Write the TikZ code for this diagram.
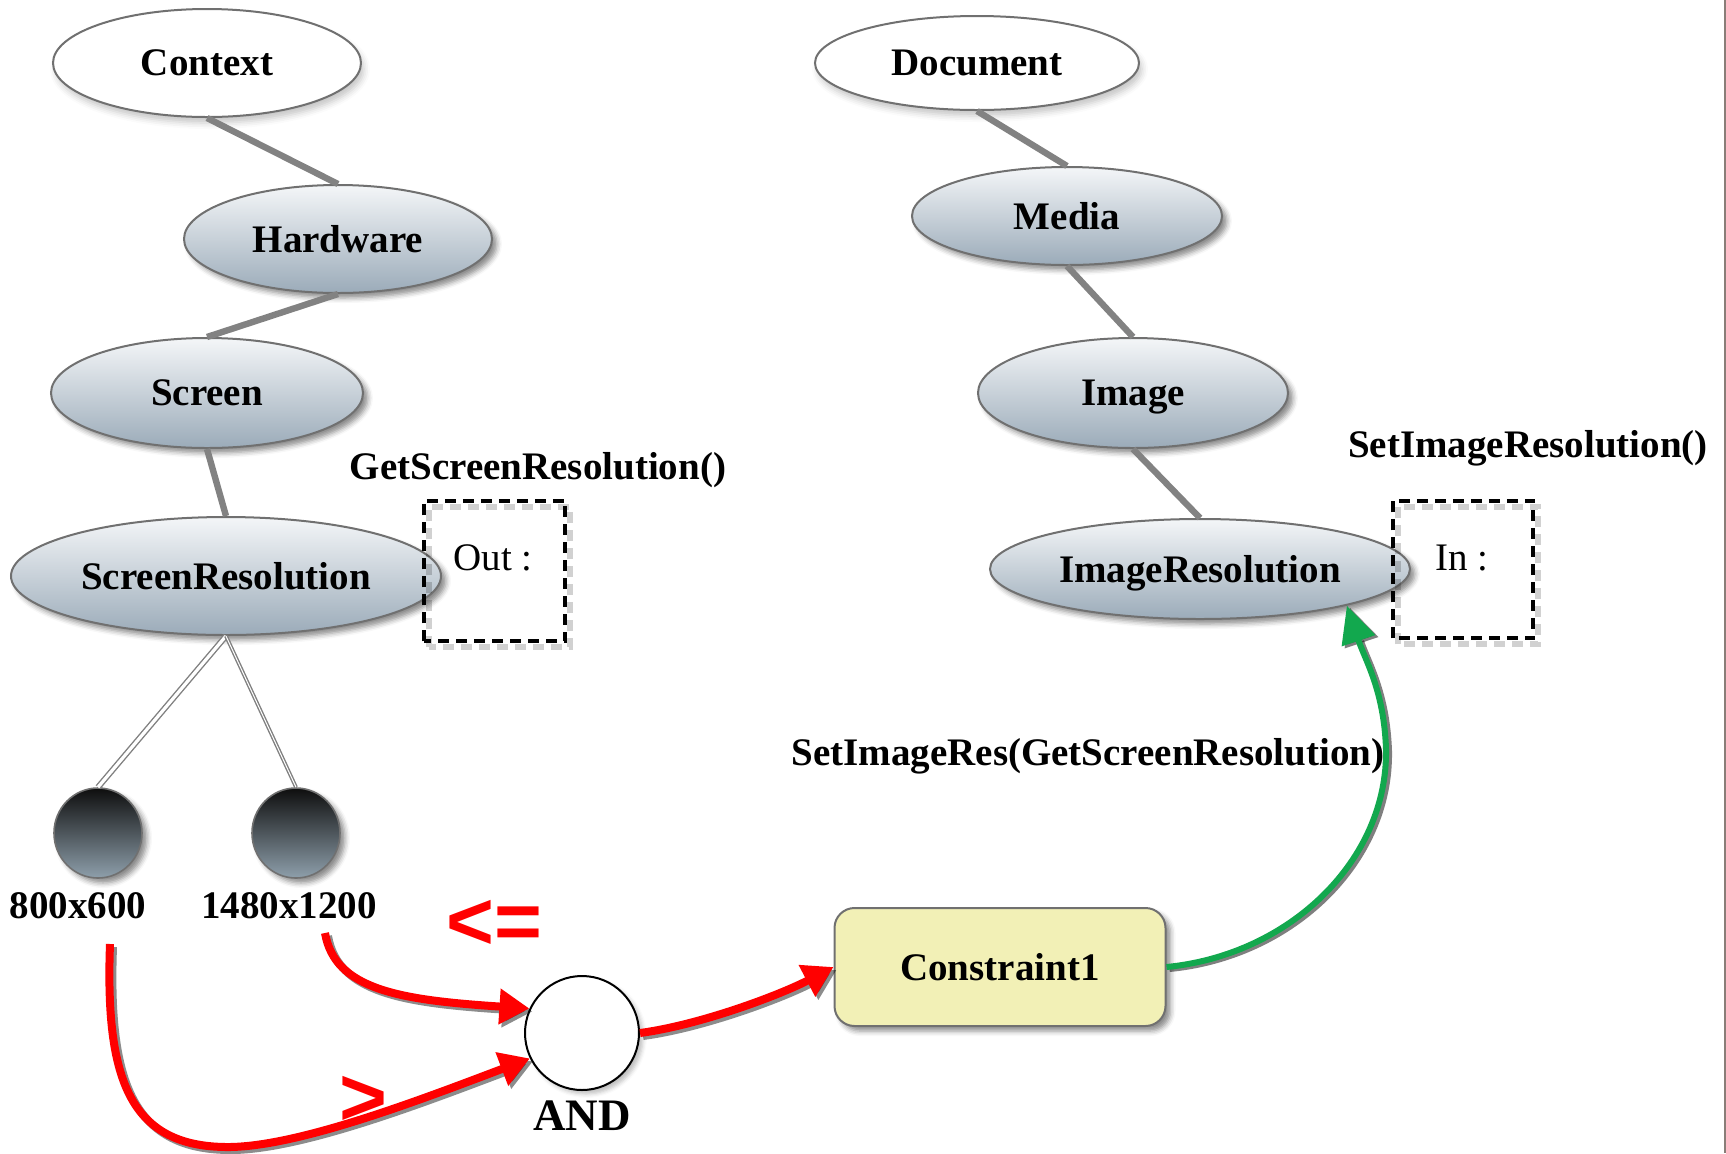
\documentclass[tikz,border=0pt]{standalone}
\usepackage{fontspec}
\setmainfont{Liberation Serif}
\setsansfont{Liberation Sans}
\usetikzlibrary{shapes.geometric, arrows.meta, shadows.blur, calc}

\definecolor{ellTop}{HTML}{F4F6F8}
\definecolor{ellBot}{HTML}{9BABB9}
\definecolor{ringgray}{HTML}{707070}
\definecolor{ballTop}{HTML}{0E0E0E}
\definecolor{ballBot}{HTML}{8E9FAB}
\definecolor{consFill}{HTML}{F2F0B6}
\definecolor{greenc}{HTML}{12A84E}
\definecolor{barGray}{HTML}{828282}
\definecolor{edgeC}{HTML}{8A7D78}

\newcommand\lblfont{\fontsize{19.5pt}{23pt}\selectfont\bfseries}
\newcommand\plainfont{\fontsize{19.5pt}{23pt}\selectfont}
\newcommand\andfont{\fontsize{22.5pt}{26pt}\selectfont\bfseries}
\newcommand\opfont{\fontsize{41pt}{44pt}\selectfont\sffamily\bfseries}

\begin{document}
\begin{tikzpicture}[x=0.5pt, y=-0.5pt,
  every node/.style={inner sep=0pt, text depth=0pt},
  softshadow/.style={blur shadow={shadow xshift=2.5pt, shadow yshift=-2.5pt,
      shadow blur radius=2.5pt, shadow opacity=45}},
  rootconcept/.style={ellipse, draw=ringgray, line width=1pt, fill=white,
      blur shadow={shadow xshift=1.5pt, shadow yshift=-3pt,
      shadow blur radius=3pt, shadow opacity=22}, font=\lblfont},
  concept/.style={ellipse, draw=ringgray, line width=1pt,
      top color=ellTop, bottom color=ellBot, softshadow, font=\lblfont},
  value/.style={ellipse, draw=ringgray, line width=0.8pt,
      top color=ballTop, bottom color=ballBot, softshadow},
  bar/.style={draw=barGray, line width=3.2pt},
  leafline/.style={draw=gray, line width=0.7pt, double=white},
  portbox/.style={draw=black, line width=2pt, dash pattern=on 5.5pt off 3.5pt},
  portshade/.style={draw=black, line width=3pt, opacity=0.18,
      dash pattern=on 5.5pt off 3.5pt},
  gate/.style={circle, draw=black, line width=1pt, fill=white,
      blur shadow={shadow xshift=2pt, shadow yshift=-2pt,
      shadow blur radius=2pt, shadow opacity=25}},
  cbox/.style={rectangle, rounded corners=10pt, draw=ringgray, line width=1pt,
      fill=consFill, softshadow, font=\lblfont},
  redarrow/.style={draw=red, line width=4pt,
      -{Triangle[length=15pt, width=17pt]}},
  redshade/.style={draw=black, opacity=0.45, line width=4pt,
      -{Triangle[length=15pt, width=17pt]},
      transform canvas={shift={(1.5pt,-1.5pt)}}},
  greenarrow/.style={draw=greenc, line width=3pt,
      -{Triangle[length=18.5pt, width=17pt]}},
  greenshade/.style={draw=black, opacity=0.5, line width=3pt,
      -{Triangle[length=18.5pt, width=17pt]},
      transform canvas={shift={(1.5pt,-1pt)}}},
  optext/.style={text=red, font=\opfont}
]
\useasboundingbox (0,0) rectangle (1726,1153);

% right frame edge
\draw[edgeC, line width=1.2pt] (1725,0) -- (1725,1153);

% context tree
\node[rootconcept, minimum width=154pt, minimum height=54pt] (ctx) at (207,63) {Context};
\node[concept, minimum width=154pt, minimum height=54pt] (hw) at (338,239) {Hardware};
\node[concept, minimum width=156pt, minimum height=55pt] (scr) at (207,393) {Screen};
\node[concept, minimum width=215pt, minimum height=59pt] (sres) at (226,576) {ScreenResolution};

% document tree
\node[rootconcept, minimum width=162pt, minimum height=47pt] (doc) at (977,63) {Document};
\node[concept, minimum width=155pt, minimum height=49pt] (media) at (1067,216) {Media};
\node[concept, minimum width=155pt, minimum height=55pt] (img) at (1133,393) {Image};
\node[concept, minimum width=210pt, minimum height=50pt] (ires) at (1200,569) {ImageResolution};

% tree links
\draw[bar] (ctx.south) -- (hw.north);
\draw[bar] (hw.south) -- (scr.north);
\draw[bar] (scr.south) -- (sres.north);
\draw[bar] (doc.south) -- (media.north);
\draw[bar] (media.south) -- (img.north);
\draw[bar] (img.south) -- (ires.north);

% resolution values
\node[value, minimum width=44pt, minimum height=45pt] (v800) at (98,833) {};
\node[value, minimum width=44pt, minimum height=45pt] (v1480) at (296,833) {};
\draw[leafline, double distance=1.6pt] (sres.south) -- (v800.north);
\draw[leafline, double distance=0.5pt] (sres.south) -- (v1480.north);
\node[font=\lblfont] (l800) at (78,906) {800x600};
\node[font=\lblfont] (l1480) at (289,906) {1480x1200};

% ports
\node[minimum width=70.5pt, minimum height=70pt] (outbox) at (494.5,571) {};
\draw[portshade] ($(outbox.south west)+(5,6)$) rectangle ($(outbox.north east)+(5,6)$);
\draw[portbox] (outbox.south west) rectangle (outbox.north east);
\node[font=\plainfont] (outtxt) at (493,558) {Out :};
\node[font=\lblfont] (getlbl) at (538,466) {GetScreenResolution()};

\node[minimum width=70pt, minimum height=68.5pt] (inbox) at (1463,569.5) {};
\draw[portshade] ($(inbox.south west)+(5,6)$) rectangle ($(inbox.north east)+(5,6)$);
\draw[portbox] (inbox.south west) rectangle (inbox.north east);
\node[font=\plainfont] (intxt) at (1462,558) {In :};
\node[font=\lblfont] (setlbl) at (1528,444) {SetImageResolution()};

% constraint
\node[gate, minimum size=57pt] (and) at (582,1033) {};
\node[font=\andfont] (andlbl) at (582,1116) {AND};
\node[cbox, minimum width=165.5pt, minimum height=59pt] (cons) at (1000,967) {Constraint1};

\node[optext] (le) at (494,925) {<=};
\node[optext] (gt) at (363,1101) {>};

\coordinate (sA) at (325,933);
\coordinate (sB) at (110,944);

\draw[redshade] (sA) .. controls (335,990) and (400,1000) .. (and.155);
\draw[redarrow] (sA) .. controls (335,990) and (400,1000) .. (and.155);
\draw[redshade] (sB) .. controls (105,1080) and (130,1148) .. (230,1147)
   .. controls (300,1146) and (420,1100) .. (and.206);
\draw[redarrow] (sB) .. controls (105,1080) and (130,1148) .. (230,1147)
   .. controls (300,1146) and (420,1100) .. (and.206);
\draw[redshade] (and.east) .. controls (700,1025) and (780,995) .. (cons.west);
\draw[redarrow] (and.east) .. controls (700,1025) and (780,995) .. (cons.west);

\draw[greenshade] (cons.east) .. controls (1290,955) and (1388,860) .. (1386,749)
   .. controls (1384,690) and (1365,660) .. (ires.-14);
\draw[greenarrow] (cons.east) .. controls (1290,955) and (1388,860) .. (1386,749)
   .. controls (1384,690) and (1365,660) .. (ires.-14);
\node[font=\lblfont] (reslbl) at (1088,752) {SetImageRes(GetScreenResolution)};

\end{tikzpicture}
\end{document}
